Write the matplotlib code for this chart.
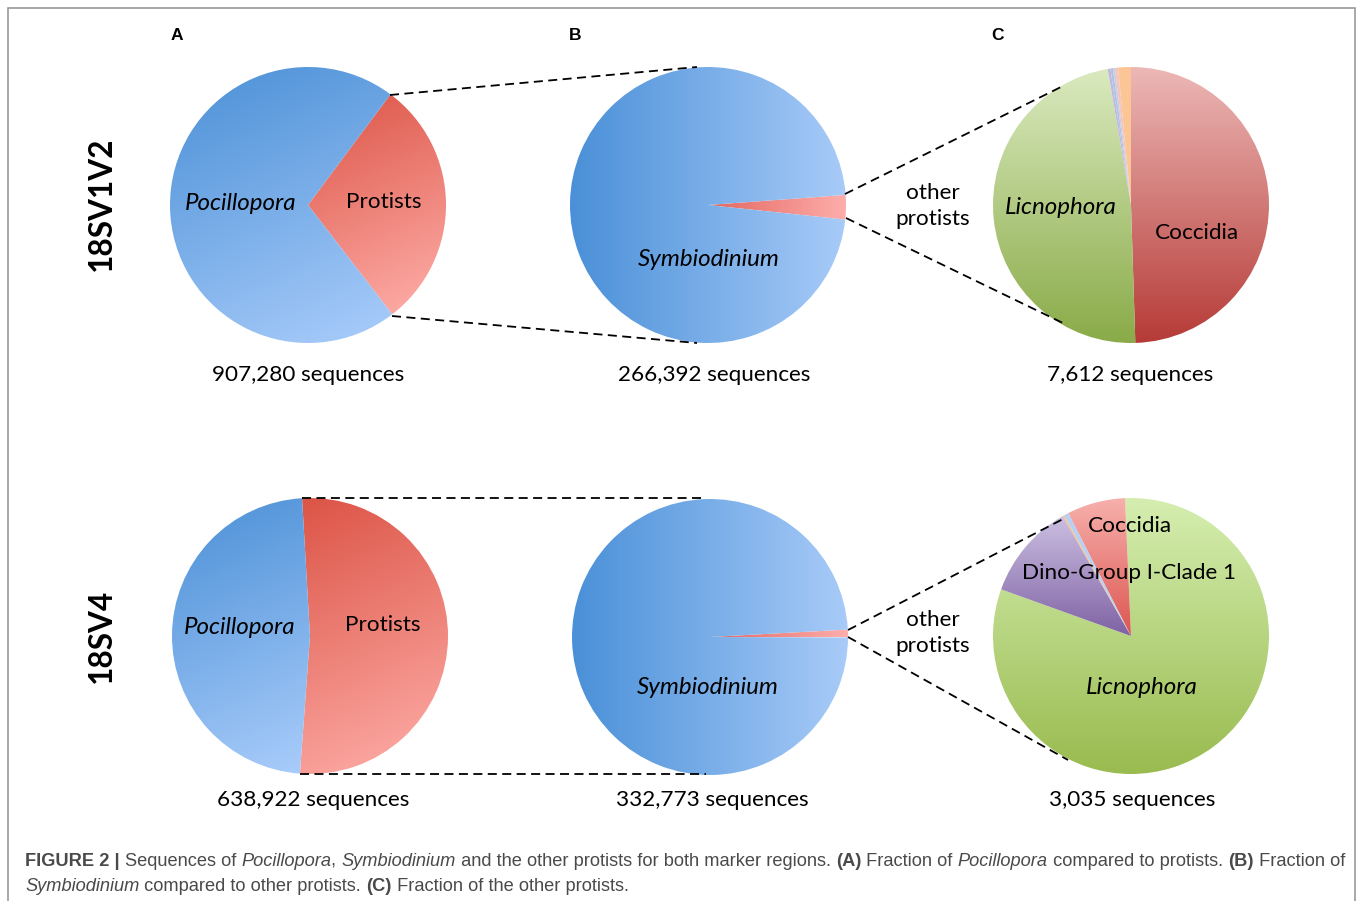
import numpy as np
import matplotlib.pyplot as plt
from matplotlib.colors import to_rgb

W, H = 1358, 901

# ---- data ----
a1_labels = ['Protists', 'Pocillopora']
a1_values = [266392, 640888]
b1_labels = ['other protists', 'Symbiodinium']
b1_values = [7612, 258780]
c1_labels = ['Coccidia', 'Licnophora', 'x1', 'x2', 'x3', 'x4', 'x5']
c1_values = [3768, 3638, 24, 22, 18, 28, 114]

a2_labels = ['Protists', 'Pocillopora']
a2_values = [332773, 306149]
b2_labels = ['other protists', 'Symbiodinium']
b2_values = [3035, 329738]
c2_labels = ['Licnophora', 'Dino-Group I-Clade 1', 'x1', 'x2', 'Coccidia']
c2_values = [2464, 342, 6, 16, 207]

totals = ['907,280 sequences', '266,392 sequences', '7,612 sequences',
          '638,922 sequences', '332,773 sequences', '3,035 sequences']

LABEL_FONT = 'Lato'
R = 138


def Y(py):
    return H - py


def grad_fill(ax, wedge, c0, c1, direction):
    bb = wedge.get_path().get_extents()
    x0, y0, x1, y1 = bb.x0, bb.y0, bb.x1, bb.y1
    n = 200
    xs = np.linspace(x0, x1, n)
    ys = np.linspace(y0, y1, n)
    X, Yg = np.meshgrid(xs, ys)
    dx, dy = direction
    t = X * dx + Yg * dy
    t = (t - t.min()) / max(t.max() - t.min(), 1e-9)
    c0 = np.array(to_rgb(c0))
    c1 = np.array(to_rgb(c1))
    img = c0[None, None, :] + t[:, :, None] * (c1 - c0)[None, None, :]
    im = ax.imshow(img, extent=(x0, x1, y0, y1), origin='lower',
                   interpolation='bilinear', zorder=1)
    im.set_clip_path(wedge)
    wedge.set_facecolor('none')


def draw_pie(ax, values, cx, cy, start, fills):
    wedges, _ = ax.pie(values, startangle=start, counterclock=False,
                       center=(cx, Y(cy)), radius=R,
                       colors=['none'] * len(values),
                       wedgeprops=dict(linewidth=0))
    for w, f in zip(wedges, fills):
        if isinstance(f, str):
            w.set_facecolor(f)
            w.set_zorder(2)
        else:
            grad_fill(ax, w, *f)
    return wedges


fig = plt.figure(figsize=(W / 100, H / 100), dpi=100)
ax = fig.add_axes([0, 0, 1, 1])

diagA = (0.45, -1)
horiz = (1, 0)
vert = (0, -1)

# row 1
draw_pie(ax, a1_values, 308, 205, 53.3,
         [('#dc5446', '#ffb0ab', diagA), ('#4a8fd6', '#aacdfb', diagA)])
draw_pie(ax, b1_values, 708, 205, 4.2,
         [('#e46660', '#feaeab', horiz), ('#4a90d8', '#a8cbf8', horiz)])
draw_pie(ax, c1_values, 1131, 205, 90,
         [('#ecb8b6', '#b63b37', vert), ('#daeabf', '#8aab48', vert),
          '#c6b7de', '#aac4ea', '#c9cdd6', '#f2c4c2', '#fcc596'])

# row 2
draw_pie(ax, a2_values, 310, 636, 93.3,
         [('#dc5446', '#ffb0ab', diagA), ('#4a8fd6', '#aacdfb', diagA)])
draw_pie(ax, b2_values, 710, 637, 3.1,
         [('#e46660', '#feaeab', horiz), ('#4a90d8', '#a8cbf8', horiz)])
draw_pie(ax, c2_values, 1131, 636, 92.5,
         [('#d5eeb0', '#99bb4f', vert), ('#cbbfe1', '#7f62a4', vert),
          '#f7c08e', '#b6cff2', ('#f7b0ac', '#dc5651', vert)])

# dashed connectors
dash = dict(color='black', lw=1.3, ls=(0, (5, 3)), zorder=3)
for (x0, y0), (x1, y1) in [((390, 95), (697, 67)), ((392, 316), (697, 343)),
                           ((845, 194), (1065, 85)), ((846, 218), (1067, 325)),
                           ((302, 498), (706, 498)), ((300, 774), (706, 774)),
                           ((848, 630), (1065, 518)), ((848, 637), (1068, 760))]:
    ax.plot([x0, x1], [Y(y0), Y(y1)], **dash)

# pie labels
lab = dict(family=LABEL_FONT, fontsize=16.2, ha='center', va='center', zorder=4)
ital = dict(lab, fontsize=17.4, style='italic')
ax.text(241, Y(204), a1_labels[1], **ital)
ax.text(384, Y(202), a1_labels[0], **lab)
ax.text(709, Y(259), b1_labels[1], **ital)
ax.text(1061, Y(207), c1_labels[1], **ital)
ax.text(1197, Y(233), c1_labels[0], **lab)
ax.text(240, Y(627), a2_labels[1], **ital)
ax.text(383, Y(625), a2_labels[0], **lab)
ax.text(708, Y(687), b2_labels[1], **ital)
ax.text(1130, Y(526), c2_labels[4], **lab)
ax.text(1129, Y(573), c2_labels[1], **lab)
ax.text(1142, Y(687), c2_labels[0], **ital)
for y in (206, 633):
    ax.text(933, Y(y), 'other\nprotists', linespacing=1.35, **lab)

for s, (x, y) in zip(totals, [(308, 375), (714, 375), (1130, 375),
                              (313, 800), (712, 800), (1132, 800)]):
    ax.text(x, Y(y), s, **lab)

# row labels
ax.text(101, Y(204), '18SV1V2', family=LABEL_FONT, weight='bold', fontsize=22.7,
        rotation=90, ha='center', va='center')
ax.text(101, Y(636), '18SV4', family=LABEL_FONT, weight='bold', fontsize=22.7,
        rotation=90, ha='center', va='center')

# panel letters
for s, x in zip(['A', 'B', 'C'], [177, 575, 998]):
    ax.text(x, Y(35), s, family='Liberation Sans', weight='bold', fontsize=12.5,
            ha='center', va='center')

# frame
ax.plot([8, 8, 1355, 1355], [0, Y(8), Y(8), 0], color='#9a9a9a', lw=1.2,
        solid_joinstyle='miter')


# caption
def rich_line(x, y, parts):
    prev = None
    for s, st in parts:
        kw = dict(fontsize=13.13, color='#4a4a4a', family='Liberation Sans',
                  va='bottom', ha='left')
        if st == 'b':
            kw['weight'] = 'bold'
        elif st == 'i':
            kw['style'] = 'italic'
        if prev is None:
            prev = ax.text(x, y, s, **kw)
        else:
            prev = ax.annotate(s, xy=(1, 0), xycoords=prev, **kw)


rich_line(25, Y(870), [('FIGURE 2 | ', 'b'), ('Sequences of ', 'n'),
                       ('Pocillopora', 'i'), (', ', 'n'), ('Symbiodinium', 'i'),
                       (' and the other protists for both marker regions. ', 'n'),
                       ('(A)', 'b'), (' Fraction of ', 'n'), ('Pocillopora', 'i'),
                       (' compared to protists. ', 'n'), ('(B)', 'b'),
                       (' Fraction of', 'n')])
rich_line(25, Y(895), [('Symbiodinium', 'i'), (' compared to other protists. ', 'n'),
                       ('(C)', 'b'), (' Fraction of the other protists.', 'n')])

ax.set_xlim(0, W)
ax.set_ylim(0, H)
ax.set_aspect('equal')
ax.axis('off')
fig.savefig('out.png', dpi=100)
